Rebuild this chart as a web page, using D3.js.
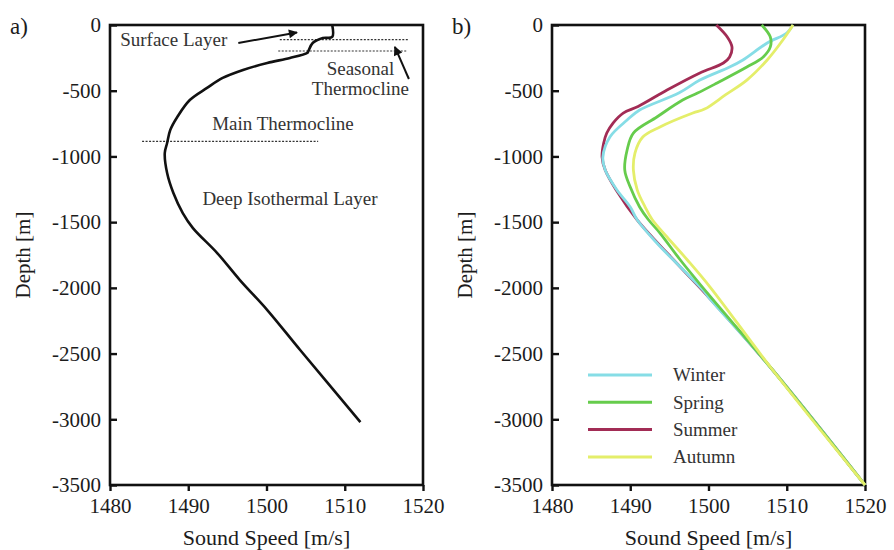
<!DOCTYPE html>
<html>
<head>
<meta charset="utf-8">
<script src="https://cdn.jsdelivr.net/npm/d3@7"></script>
<style>
	body { margin : 0; background : #fff; }
	svg text { font-family : 'Liberation Serif', 'Times New Roman', serif; fill : #1c1c1c; }
</style>
</head>
<body>
<svg id="sound-speed" width="894" height="550"></svg>
<script>
// ticks
var speedTicks = [1480, 1490, 1500, 1510, 1520];
var depthTicks = [0, -500, -1000, -1500, -2000, -2500, -3000, -3500];

// panel a) mean profile [speed, depth]
var meanProfile = [
	[1508.4, 0], [1508.4, -91], [1507.2, -99], [1505.9, -137], [1505.3, -205],
	[1505.2, -213], [1503.0, -251], [1500.1, -289], [1497.0, -342], [1494.4, -403],
	[1492.4, -479], [1490.2, -571], [1488.6, -700], [1487.7, -799], [1487.3, -898],
	[1487.0, -974], [1487.3, -1126], [1488.1, -1278], [1489.3, -1431], [1490.6, -1545],
	[1493.7, -1735], [1496.6, -1941], [1500.1, -2169], [1504.3, -2473], [1512.0, -3021]
];

// layer boundaries [depth, speedFrom, speedTo]
var layerLines = [
	[-112, 1501.7, 1518.1],
	[-198, 1501.5, 1518.0],
	[-885, 1484.1, 1506.6]
];

// annotations [text, speed, depth, anchor]
var layerLabels = [
	['Surface Layer', 1481.3, -160, 'start'],
	['Seasonal', 1512.0, -380, 'middle'],
	['Thermocline', 1512.0, -533, 'middle'],
	['Main Thermocline', 1502.1, -799, 'middle'],
	['Deep Isothermal Layer', 1503.0, -1370, 'middle']
];

// arrows [speedFrom, depthFrom, speedTo, depthTo]
var layerArrows = [
	[1496.4, -137, 1503.9, -57],
	[1518.2, -411, 1516.4, -167]
];

// panel b) seasons
var seasons = ['Winter', 'Spring', 'Summer', 'Autumn'];
var seasonColors = ['#86dde6', '#66cc4c', '#a22c55', '#e4ee6a'];

var winter = [
	[1510.8, 0], [1510.0, -61], [1507.5, -137], [1504.4, -266], [1502.7, -320],
	[1498.9, -419], [1496.2, -518], [1491.2, -647], [1489.6, -723], [1487.4, -852],
	[1486.5, -1005], [1486.8, -1104], [1488.3, -1256], [1490.0, -1385], [1490.9, -1484],
	[1493.4, -1659], [1496.4, -1842], [1499.3, -2017], [1500.0, -2070], [1508.2, -2625],
	[1520.0, -3500]
];
var spring = [
	[1506.8, 0], [1507.9, -91], [1507.9, -167], [1507.0, -243], [1504.9, -320],
	[1501.1, -441], [1498.6, -518], [1496.7, -571], [1493.4, -700], [1490.4, -822],
	[1489.6, -951], [1489.3, -1104], [1490.0, -1233], [1491.2, -1385], [1492.3, -1480],
	[1493.8, -1583], [1496.4, -1788], [1500.0, -2050], [1508.2, -2625], [1520.0, -3500]
];
var summer = [
	[1501.0, 0], [1502.4, -91], [1503.0, -167], [1502.7, -243], [1501.9, -289],
	[1498.9, -365], [1494.7, -495], [1491.0, -620], [1489.1, -670], [1487.8, -746],
	[1487.0, -822], [1486.6, -900], [1486.4, -1005], [1486.8, -1104], [1488.2, -1256],
	[1490.9, -1484], [1496.4, -1842], [1500.0, -2070], [1508.2, -2625], [1520.0, -3500]
];
var autumn = [
	[1510.8, 0], [1509.5, -114], [1507.5, -266], [1504.9, -419], [1502.2, -530],
	[1499.5, -640], [1498.0, -670], [1493.8, -776], [1491.6, -852], [1490.6, -974],
	[1490.4, -1104], [1490.9, -1256], [1491.9, -1385], [1492.8, -1480], [1494.7, -1613],
	[1497.3, -1788], [1500.2, -1994], [1508.2, -2625], [1520.0, -3500]
];
var seasonData = [winter, spring, summer, autumn];
// summer sits underneath, autumn on top
var drawOrder = [2, 0, 1, 3];

var svg = d3.select('#sound-speed');

var panels = [
	{label : 'a)', left : 110, right : 423},
	{label : 'b)', left : 552, right : 865}
];
var plotTop = 25, plotBottom = 485;

function buildPanel(p){
	var x = d3.scaleLinear().domain([1480, 1520]).range([p.left, p.right]);
	var y = d3.scaleLinear().domain([0, -3500]).range([plotTop, plotBottom]);
	var g = svg.append('g');

	g.append('g')
		.attr('transform', `translate(${p.left},0)`)
		.call(d3.axisLeft(y).tickValues(depthTicks).tickFormat((d)=>String(d))
			.tickSizeInner(-7).tickSizeOuter(0).tickPadding(9))
		.call(axisStyle);

	g.append('g')
		.attr('transform', `translate(0,${plotBottom})`)
		.call(d3.axisBottom(x).tickValues(speedTicks).tickFormat((d)=>String(d))
			.tickSizeInner(6).tickSizeOuter(0).tickPadding(7))
		.call(axisStyle);

	g.append('rect')
		.attr('x', p.left)
		.attr('y', plotTop)
		.attr('width', p.right - p.left)
		.attr('height', plotBottom - plotTop)
		.attr('fill', 'none')
		.attr('stroke', '#111')
		.attr('stroke-width', 2.6);

	g.append('text')
		.text('Sound Speed [m/s]')
		.attr('x', (p.left + p.right) / 2)
		.attr('y', 545)
		.attr('text-anchor', 'middle')
		.style('font-size', '22px');

	g.append('text')
		.text('Depth [m]')
		.attr('transform', `translate(${p.left - 80},${(plotTop + plotBottom) / 2}) rotate(-90)`)
		.attr('text-anchor', 'middle')
		.style('font-size', '21px');

	g.append('text')
		.text(p.label)
		.attr('x', p.left - 100)
		.attr('y', 34)
		.style('font-size', '23px');

	return {x : x, y : y, g : g};
}

function axisStyle(sel){
	sel.select('.domain').remove();
	sel.selectAll('.tick line').attr('stroke', '#111').attr('stroke-width', 2.4);
	sel.selectAll('.tick text')
		.attr('fill', '#1c1c1c')
		.style('font-family', "'Liberation Serif', serif")
		.style('font-size', '21px');
}

svg.append('defs').append('marker')
	.attr('id', 'arrow-head')
	.attr('viewBox', '0 0 10 10')
	.attr('refX', 9)
	.attr('refY', 5)
	.attr('markerWidth', 6)
	.attr('markerHeight', 4.5)
	.attr('orient', 'auto')
	.append('path')
	.attr('d', 'M0,0 L10,5 L0,10 z')
	.attr('fill', '#111');

var line = function(pnl){
	return d3.line()
		.x(function(d){ return pnl.x(d[0]); })
		.y(function(d){ return pnl.y(d[1]); })
		.curve(d3.curveCatmullRom.alpha(0.5));
};

//panel a

var a = buildPanel(panels[0]);

a.g.selectAll('.layer-line')
	.data(layerLines)
	.enter()
	.append('line')
	.attr('class', 'layer-line')
	.attr('x1', (d)=>a.x(d[1]))
	.attr('x2', (d)=>a.x(d[2]))
	.attr('y1', (d)=>a.y(d[0]))
	.attr('y2', (d)=>a.y(d[0]))
	.attr('stroke', '#333')
	.attr('stroke-width', 1.2)
	.attr('stroke-dasharray', '2,1.5');

a.g.append('path')
	.datum(meanProfile)
	.attr('d', line(a))
	.attr('fill', 'none')
	.attr('stroke', '#111')
	.attr('stroke-width', 2.6);

a.g.selectAll('.layer-label')
	.data(layerLabels)
	.enter()
	.append('text')
	.attr('class', 'layer-label')
	.text((d)=>d[0])
	.attr('x', (d)=>a.x(d[1]))
	.attr('y', (d)=>a.y(d[2]))
	.attr('text-anchor', (d)=>d[3])
	.style('font-size', '19px')
	.style('fill', '#333');

a.g.selectAll('.layer-arrow')
	.data(layerArrows)
	.enter()
	.append('line')
	.attr('class', 'layer-arrow')
	.attr('x1', (d)=>a.x(d[0]))
	.attr('y1', (d)=>a.y(d[1]))
	.attr('x2', (d)=>a.x(d[2]))
	.attr('y2', (d)=>a.y(d[3]))
	.attr('stroke', '#111')
	.attr('stroke-width', 2)
	.attr('marker-end', 'url(#arrow-head)');

//panel b

var b = buildPanel(panels[1]);

b.g.selectAll('.season-line')
	.data(drawOrder)
	.enter()
	.append('path')
	.attr('class', 'season-line')
	.attr('d', (i)=>line(b)(seasonData[i]))
	.attr('fill', 'none')
	.attr('stroke', (i)=>seasonColors[i])
	.attr('stroke-width', 2.8);

var legend = b.g.append('g')
	.attr('transform', `translate(${panels[1].left + 36},375)`)
	.selectAll('g')
	.data(seasons)
	.enter()
	.append('g')
	.attr('transform', (d, i)=>`translate(0,${i * 27.3})`);

legend.append('line')
	.attr('x1', 0)
	.attr('x2', 64)
	.attr('stroke', (d, i)=>seasonColors[i])
	.attr('stroke-width', 3);

legend.append('text')
	.text((d)=>d)
	.attr('x', 85)
	.attr('dy', '0.33em')
	.style('font-size', '19px')
	.style('fill', '#333');
</script>
</body>
</html>
